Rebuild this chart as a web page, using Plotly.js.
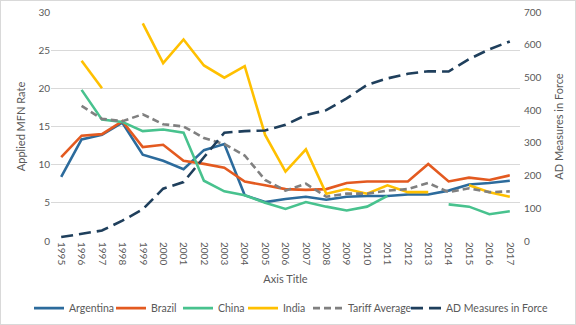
<!DOCTYPE html>
<html>
<head>
<meta charset="utf-8">
<script src="https://cdn.plot.ly/plotly-3.0.1.min.js"></script>
<style>
html,body{margin:0;padding:0;background:#fff;}
#wrap{position:relative;width:576px;height:325px;}
#chart{width:576px;height:325px;}
#frame{position:absolute;left:0;top:0;width:574px;height:323px;border:1px solid #D9D9D9;pointer-events:none;}
</style>
</head>
<body>
<div id="wrap"><div id="chart"></div><div id="frame"></div></div>
<script>
const years = ["1995","1996","1997","1998","1999","2000","2001","2002","2003","2004","2005","2006","2007","2008","2009","2010","2011","2012","2013","2014","2015","2016","2017"];
const argentina = [8.4,13.3,13.9,15.5,11.3,10.5,9.4,11.9,12.7,6.0,5.1,5.5,5.8,5.4,5.8,5.9,5.9,6.1,6.1,6.6,7.4,7.6,7.9];
const brazil = [11.0,13.8,14.0,15.7,12.3,12.6,10.5,10.1,9.6,7.8,7.3,6.8,6.7,6.8,7.6,7.8,7.8,7.8,10.1,7.8,8.3,8.0,8.6];
const china = [null,19.8,15.9,15.6,14.4,14.6,14.2,7.9,6.5,6.0,5.0,4.2,5.1,4.5,4.0,4.5,5.9,null,null,4.8,4.5,3.5,3.9];
const india = [null,23.6,20.0,null,28.5,23.3,26.4,23.0,21.4,22.9,13.9,9.1,12.0,6.2,6.8,6.2,7.3,6.4,6.4,null,7.3,6.4,5.8];
const tariffAvg = [null,17.7,16.0,15.7,16.6,15.3,15.0,13.5,12.7,11.2,8.0,6.6,7.5,5.8,6.2,6.2,6.6,6.8,7.6,6.4,6.9,6.4,6.5];
const adMeasures = [12,22,32,62,97,160,180,256,331,336,338,355,385,400,436,477,497,511,519,518,556,586,610];

const font = {family: "Lato, 'Open Sans', sans-serif", size: 10, color: "#595959"};
const legendNames = ["legend","legend2","legend3","legend4","legend5","legend6"];
const legendLeft = [29, 111, 178, 243, 308, 406];
const mk = (i, name, y, color, dash, axis) => ({
  type: "scatter", mode: "lines", name: name, x: years, y: y,
  yaxis: axis || "y", connectgaps: false, legend: legendNames[i],
  line: {color: color, width: 2.6, dash: dash || "solid"}
});
const data = [
  mk(0, "Argentina", argentina, "#2C6B9C"),
  mk(1, "Brazil", brazil, "#E35A20"),
  mk(2, "China", china, "#48C28E"),
  mk(3, "India", india, "#FFC000"),
  mk(4, "Tariff Average", tariffAvg, "#808080", "7px,4px"),
  mk(5, "AD Measures in Force", adMeasures, "#1F3F5C", "12px,6px", "y2")
];
const layout = {
  width: 576, height: 325,
  margin: {l: 51, r: 56, t: 12, b: 84, autoexpand: false},
  paper_bgcolor: "#fff", plot_bgcolor: "#fff",
  font: font,
  showlegend: true,
  xaxis: {type: "category", range: [-0.5, 22.5], tickangle: 90, showgrid: false,
          showline: false, zeroline: false, ticks: "", tickfont: font,
          title: {text: "Axis Title", font: {family: font.family, size: 11, color: "#595959"}, standoff: 10}},
  yaxis: {range: [0, 30], dtick: 5, showgrid: true, gridcolor: "#D9D9D9", gridwidth: 1,
          zeroline: false, showline: false, ticks: "", tickfont: font,
          title: {text: "Applied MFN Rate", font: {family: font.family, size: 11, color: "#595959"}, standoff: 10}},
  yaxis2: {range: [0, 700], dtick: 100, overlaying: "y", side: "right", showgrid: false,
           zeroline: false, showline: false, ticks: "", tickfont: font, ticklabelstandoff: 3,
           title: {text: "AD Measures in Force", font: {family: font.family, size: 11, color: "#595959"}, standoff: 14}}
};
legendNames.forEach((n, i) => {
  layout[n] = {orientation: "h", xref: "container", yref: "container",
               x: legendLeft[i] / 576, xanchor: "left", y: 0.052, yanchor: "middle",
               font: {family: font.family, size: 10.5, color: "#595959"}, bgcolor: "rgba(0,0,0,0)"};
});
Plotly.newPlot("chart", data, layout, {displayModeBar: false, staticPlot: true});
</script>
</body>
</html>
